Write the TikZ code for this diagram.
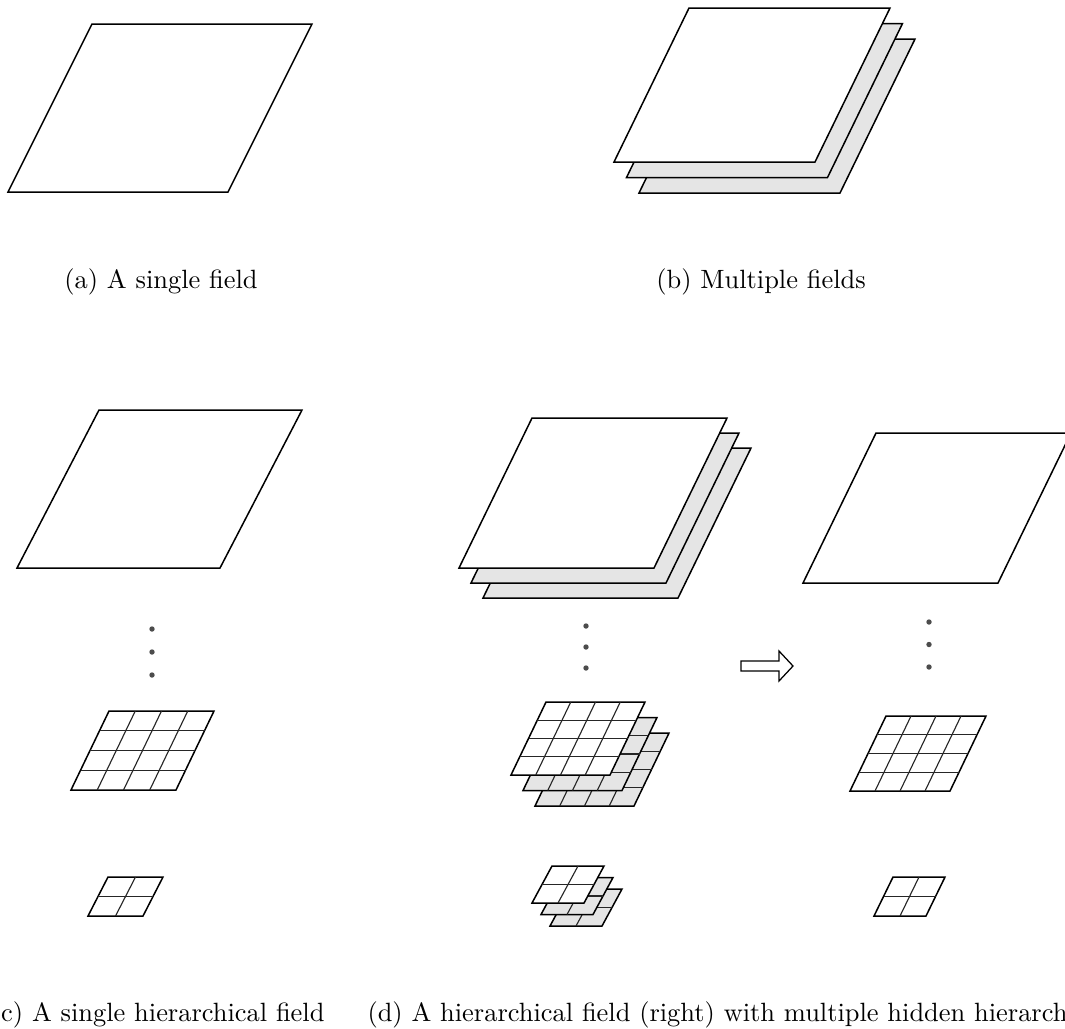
\documentclass[tikz,border=0pt]{standalone}
\usetikzlibrary{calc}

\begin{document}
\begin{tikzpicture}[
    x=0.4pt, y=-0.4pt,               % 1 drawing unit = 1 px of the layout, y down
    sheet/.style={draw=black,line width=0.6pt,line join=miter},
    front/.style={sheet,fill=white},
    back/.style={sheet,fill=black!10},
    cell/.style={line width=0.45pt,black!85},
    vdot/.style={fill=black!70,draw=none},
    captext/.style={anchor=base,inner sep=0pt,font=\fontsize{10.57}{12.6}\selectfont},
  ]
  \useasboundingbox (0,0) rectangle (1065,1028);

  %% ---------------- macros ----------------
  % one field: lower-left corner, width, height, skew, cells per side, style
  \newcommand{\fieldF}[7]{%
    \draw[#7] (#1,#2) -- ++(#3,0) -- ++(#5,-#4) -- ++(-#3,0) -- cycle;
    \ifnum#6>1
      \pgfmathtruncatemacro{\nn}{#6-1}
      \foreach \k in {1,...,\nn}{
        \draw[cell] ({#1+\k*#3/#6},#2) -- ++(#5,-#4);
        \draw[cell] ({#1+\k*#5/#6},{#2-\k*#4/#6}) -- ++(#3,0);}
    \fi}
  % three fields stacked, the hidden ones shifted by (#7,#8)
  \newcommand{\stackF}[8]{%
    \fieldF{#1+2*#7}{#2+2*#8}{#3}{#4}{#5}{#6}{back}
    \fieldF{#1+#7}{#2+#8}{#3}{#4}{#5}{#6}{back}
    \fieldF{#1}{#2}{#3}{#4}{#5}{#6}{front}}
  \newcommand{\vdotsF}[3]{% x, first y, step
    \foreach \i in {0,1,2}{\fill[vdot] (#1,{#2+\i*#3}) circle (2.7);}}

  %% ---------------- (a) single field ----------------
  \fieldF{8}{192}{220}{168}{84}{1}{front}
  \node[captext] (capA) at (161,288) {(a) A single field};

  %% ---------------- (b) multiple fields ----------------
  \stackF{614}{162}{201}{154}{75}{1}{12.5}{15.5}
  \node[captext] (capB) at (761,288) {(b) Multiple fields};

  %% ---------------- (c) single hierarchical field ----------------
  \fieldF{17}{568}{203}{158}{82}{1}{front}
  \vdotsF{152}{629}{23}
  \fieldF{71}{790}{105}{79}{38}{4}{front}
  \fieldF{88}{916}{55}{39}{20}{2}{front}
  \node[captext,anchor=base east] (capC) at (325,1021) {(c) A single hierarchical field};

  %% ---------------- (d) hidden hierarchies -> hierarchical field ----------------
  \stackF{459}{568}{195}{150}{73}{1}{12}{15}
  \vdotsF{586}{626}{21}
  \stackF{511}{775}{99}{73}{35}{4}{12}{15.5}
  \stackF{532}{903}{52}{37}{20}{2}{9}{11.5}

  \draw[sheet,line width=0.5pt,fill=white] (741,661) -- (779,661) -- (779,651)
        -- (793,666) -- (779,681) -- (779,671) -- (741,671) -- cycle;

  \fieldF{803}{583}{195}{150}{73}{1}{front}
  \vdotsF{929}{622}{22.5}
  \fieldF{850}{791}{100}{75}{36}{4}{front}
  \fieldF{874}{916}{52}{39}{19}{2}{front}
  \node[captext,anchor=base west] (capD) at (367,1021)
        {(d) A hierarchical field (right) with multiple hidden hierarchical fields (left)};
\end{tikzpicture}
\end{document}
